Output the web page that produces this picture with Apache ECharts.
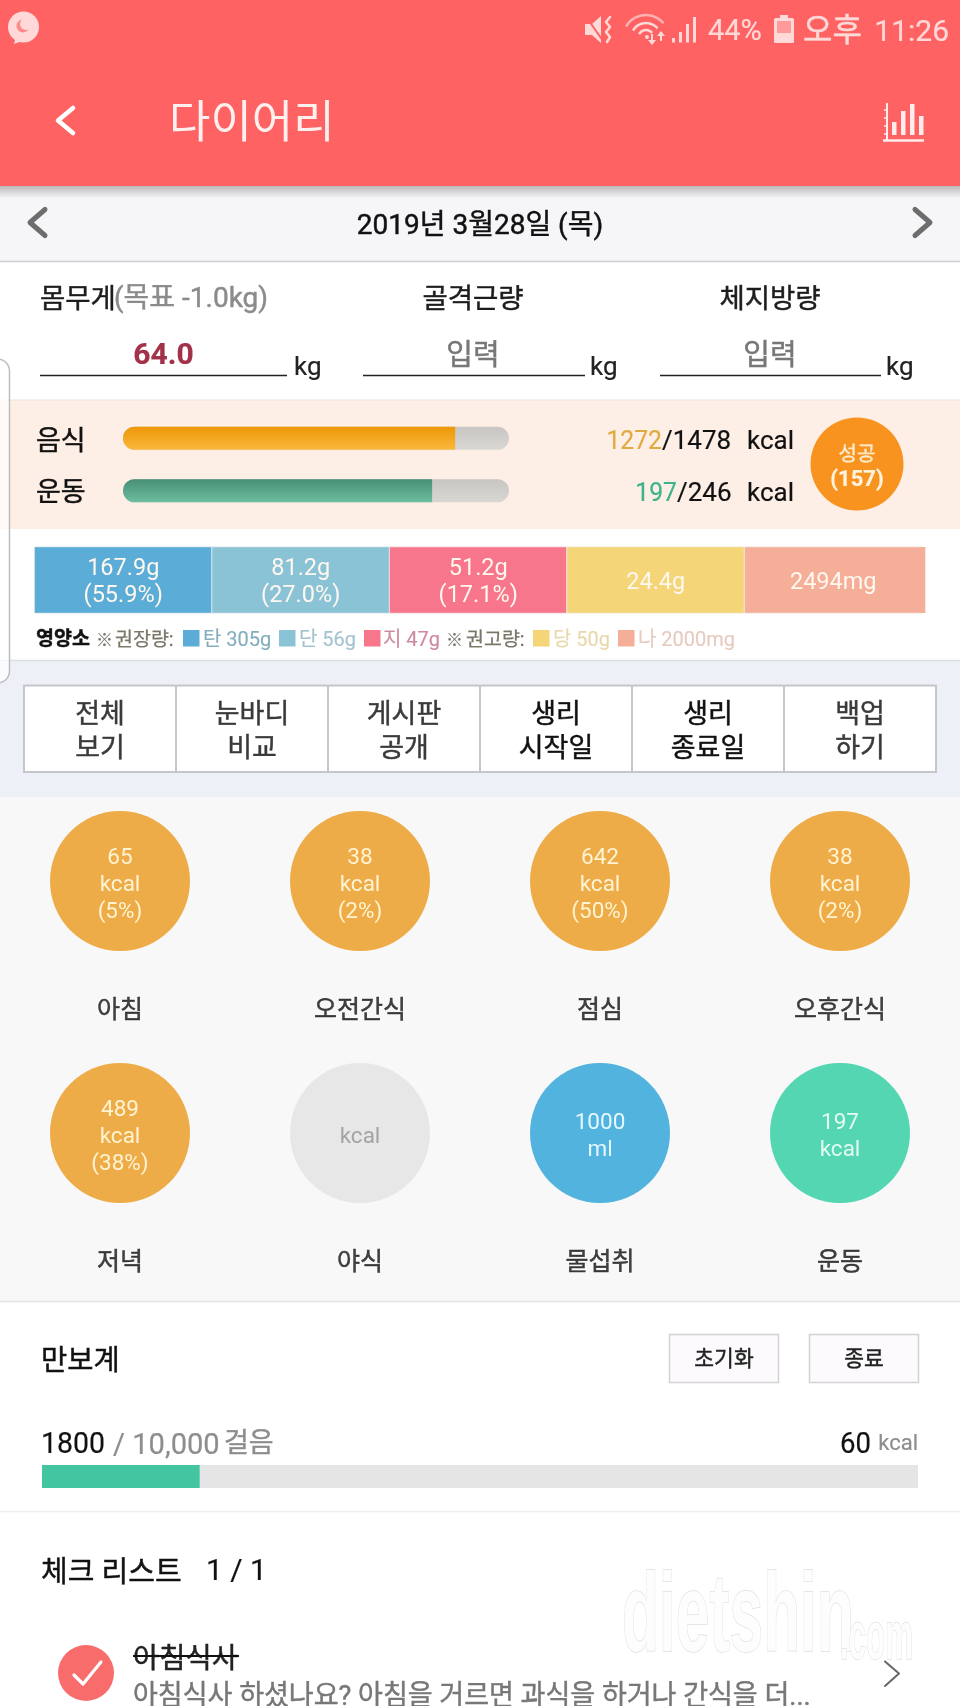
<!DOCTYPE html>
<html lang="ko">
<head>
<meta charset="utf-8">
<title>다이어리</title>
<style>html,body{margin:0;padding:0;background:#fff}#chart{width:960px;height:1706px}</style>
<script src="https://cdn.jsdelivr.net/npm/echarts@6/dist/echarts.min.js"></script>
</head>
<body>
<div id="chart"></div>
<script>
// ---- data ----
const intakeNames = ['음식', '운동'];
const intakeDone = [1272, 197];
const intakeGoal = [1478, 246];
const nutrientNames = ['탄수화물', '단백질', '지방', '당', '나트륨'];
const nutrientValues = [167.9, 81.2, 51.2, 24.4, 2494];
const nutrientUnits = ['g', 'g', 'g', 'g', 'mg'];
const nutrientShares = ['55.9%', '27.0%', '17.1%', null, null];
const mealNames = ['아침', '오전간식', '점심', '오후간식', '저녁', '야식', '물섭취', '운동'];
const mealValues = [65, 38, 642, 38, 489, null, 1000, 197];
const mealUnits = ['kcal', 'kcal', 'kcal', 'kcal', 'kcal', 'kcal', 'ml', 'kcal'];
const mealShares = ['5%', '2%', '50%', '2%', '38%', null, null, null];
const steps = [1800];
const stepGoal = 10000;
const buttonRows = [['전체', '보기'], ['눈바디', '비교'], ['게시판', '공개'], ['생리', '시작일'], ['생리', '종료일'], ['백업', '하기']];

// ---- styles ----
const KR = "'Noto Sans CJK KR', sans-serif";
const RB = "Roboto, 'Noto Sans CJK KR', sans-serif";
const nutrientColors = ['#5bacd6', '#8ac3d6', '#f7768c', '#f4d577', '#f5ae97'];
const mealColors = ['#eeac48', '#eeac48', '#eeac48', '#eeac48', '#eeac48', '#e7e7e7', '#52b3df', '#54d6b3'];
const mealText = ['#fff3d2', '#fff3d2', '#fff3d2', '#fff3d2', '#fff3d2', '#a3a3a3', '#e6f8ff', '#e4fbf2'];
const btnColors = ['#3a3a3a', '#3a3a3a', '#3a3a3a', '#111', '#111', '#3a3a3a'];

// ---- page furniture helpers ----
const g = [];
function R(x, y, w, h, fill, o) {
  o = o || {};
  g.push({ type: 'rect', silent: true, z: o.z || 0, shape: { x, y, width: w, height: h, r: o.r || 0 },
    style: { fill, stroke: o.stroke || null, lineWidth: o.lw || 0 } });
}
function L(x1, y1, x2, y2, stroke, lw, z) {
  g.push({ type: 'line', silent: true, z: z || 0, shape: { x1, y1, x2, y2 }, style: { stroke, lineWidth: lw || 1 } });
}
function P(points, stroke, lw) {
  g.push({ type: 'polyline', silent: true, shape: { points }, style: { stroke, lineWidth: lw || 2, fill: null, lineCap: 'round', lineJoin: 'round' } });
}
function PG(points, fill) {
  g.push({ type: 'polygon', silent: true, shape: { points }, style: { fill } });
}
function C(cx, cy, r, fill) {
  g.push({ type: 'circle', silent: true, shape: { cx, cy, r }, style: { fill } });
}
function A(cx, cy, r, a0, a1, stroke, lw) {
  g.push({ type: 'arc', silent: true, shape: { cx, cy, r, startAngle: a0 * Math.PI / 180, endAngle: a1 * Math.PI / 180 }, style: { stroke, lineWidth: lw, fill: null } });
}
function T(text, x, y, size, fill, o) {
  o = o || {};
  const f = o.font || RB;
  const thick = o.lw != null ? o.lw : (/[가-힣]/.test(text) ? 0.45 : 0.2);
  g.push({ type: 'text', silent: true, x, y, scaleX: o.sx || 1,
    style: { text, x: 0, y: 0, fill, fontSize: size, fontFamily: f, fontWeight: o.w || 'normal',
      textAlign: o.a || 'left', textVerticalAlign: 'middle', stroke: o.stroke || (thick ? fill : null), lineWidth: thick } });
}

// bands
R(0, 0, 960, 186, '#ff6262');
g.push({ type: 'rect', silent: true, shape: { x: 0, y: 186, width: 960, height: 12 },
  style: { fill: { type: 'linear', x: 0, y: 0, x2: 0, y2: 1, colorStops: [{ offset: 0, color: '#bdb8b9' }, { offset: 1, color: '#f5f4f7' }] } } });
R(0, 198, 960, 63, '#f6f5f8');
L(0, 261.5, 960, 261.5, '#cfcfcf', 1.5);
R(0, 400, 960, 129, '#fdeee6');
L(0, 400, 960, 400, '#e9e4e2', 1);
R(0, 660, 960, 137, '#eef0f7');
L(0, 660.5, 960, 660.5, '#dcdde0', 1.5);
R(0, 797, 960, 504, '#f8f8f8');
L(0, 1301.5, 960, 1301.5, '#e2e2e2', 1.5);
L(0, 1511.5, 960, 1511.5, '#eeeeee', 1.5);
R(-20, 359, 29.5, 324, 'rgba(255,255,255,0.72)', { r: 12, stroke: '#bdbdbd', lw: 1.5 });

// status bar
const SB = '#ffd8d8';
C(23.5, 27, 15.5, SB);
PG([[16, 36], [14, 44], [25, 40]], SB);
C(23, 26, 6.5, '#ff8a8a');
C(26, 24, 6, SB);
PG([[585, 24], [592, 24], [601, 16], [601, 43], [592, 35], [585, 35]], SB);
L(587, 18, 603, 41, '#ff6262', 2);
P([[610, 17], [606, 22], [610, 27], [606, 32], [610, 37], [607, 42]], SB, 2.5);
A(646, 38, 23, -150, -40, '#ffb0b0', 2.5);
A(646, 38, 15, -150, -40, SB, 2.5);
A(646, 38, 8, -150, -40, SB, 2.5);
C(647, 37, 2, SB);
L(652, 34, 652, 43, SB, 2); PG([[648, 40], [656, 40], [652, 45]], SB);
L(661, 33, 661, 41, SB, 2); PG([[657, 36], [665, 36], [661, 31]], SB);
R(672, 38, 3, 4.5, SB); R(679, 32, 3, 10.5, SB); R(686, 24, 3, 18.5, SB); R(693, 17, 3, 25.5, SB);
T('44%', 708, 33, 29, SB);
R(780, 15, 8, 3, SB);
R(774, 18, 20, 25, SB, { r: 1.5 });
R(777, 21, 14, 12, '#ff9a9a');
T('오후', 803, 33, 32, SB);
T('11:26', 949, 33, 30, SB, { a: 'right' });

// header
P([[73, 108], [58, 120.5], [73, 133]], '#fff', 4.5);
T('다이어리', 169, 127, 45, '#fff0f0', { lw: 0 });
const IC = '#ffecec';
L(887, 103, 887, 141, IC, 2); L(883, 140.5, 924, 140.5, IC, 2.5);
[110, 118, 126, 134].forEach(y => L(884, y, 887, y, IC, 1.5));
[[894, 122], [903, 111], [912, 104], [921, 116]].forEach(b => R(b[0] - 2, b[1], 4.5, 135 - b[1], IC));

// date row
P([[45, 209.5], [30, 222.5], [45, 235.5]], '#6d6d6d', 5);
P([[915, 209.5], [930, 222.5], [915, 235.5]], '#6d6d6d', 5);
T('2019년 3월28일 (목)', 480, 227, 28, '#111', { a: 'center' });

// body measures
T('몸무게', 40, 301, 27.5, '#1c1c1c');
T('(목표 -1.0kg)', 114, 300, 28, '#8b8b8b');
T('골격근량', 473, 301, 27.5, '#1c1c1c', { a: 'center' });
T('체지방량', 770, 301, 27.5, '#1c1c1c', { a: 'center' });
T('64.0', 163.5, 356, 30, '#a3314a', { a: 'center', w: 'bold' });
T('입력', 473, 358, 29, '#777', { a: 'center' });
T('입력', 770, 358, 29, '#777', { a: 'center' });
L(40, 375.5, 287, 375.5, '#222', 1.5); L(363, 375.5, 585, 375.5, '#222', 1.5); L(660, 375.5, 881, 375.5, '#222', 1.5);
T('kg', 294, 368, 26, '#222'); T('kg', 590, 368, 26, '#222'); T('kg', 886, 368, 26, '#222');

// intake texts
T(intakeNames[0], 36, 443, 27, '#111');
T(intakeNames[1], 36, 494, 27, '#111');
T(String(intakeDone[0]), 662, 442, 26, '#e0aa40', { a: 'right', sx: 0.95 });
T('/' + intakeGoal[0], 662, 442, 26, '#111');
T('kcal', 794, 442, 26, '#111', { a: 'right' });
T(String(intakeDone[1]), 677, 494, 26, '#3fb28a', { a: 'right', sx: 0.95 });
T('/' + intakeGoal[1], 677, 494, 26, '#111');
T('kcal', 794, 494, 26, '#111', { a: 'right' });
C(857, 464, 46.5, '#f7931e');
T('성공', 857, 456, 20, '#ffe9c9', { a: 'center' });
T('(157)', 857, 480, 22, '#fff3dd', { a: 'center', w: 'bold' });

// nutrient legend
T('영양소', 36, 640, 19.5, '#111', { w: 'bold' });
T('※', 96, 642, 17, '#77776c', { lw: 0.2 });
T('권장량:', 115, 641, 19.5, '#7b7568', { lw: 0.25 });
const legend = [
  [183, '#5bacd6', '탄 305g', 203, '#83aebe'],
  [279, '#8ac3d6', '단 56g', 299, '#a3c4cf'],
  [364, '#f7768c', '지 47g', 383, '#cf8a9d'],
  [533, '#f4d577', '당 50g', 553, '#e8d8ab'],
  [618, '#f5ae97', '나 2000mg', 638, '#e6cabf']
];
legend.forEach(i => { R(i[0], 630, 16.5, 16.5, i[1]); T(i[2], i[3], 641, 20, i[4], { lw: 0.15 }); });
T('※', 446, 642, 17, '#77776c', { lw: 0.2 });
T('권고량:', 466, 641, 19.5, '#7b7568', { lw: 0.25 });

// button row
R(24, 685.5, 912, 86.5, '#fff', { stroke: '#c3c6ca', lw: 2 });
for (let i = 1; i < 6; i++) L(24 + 152 * i, 685, 24 + 152 * i, 772, '#c3c6ca', 2);
buttonRows.forEach((r, i) => {
  T(r[0], 100 + 152 * i, 716, 27, btnColors[i], { a: 'center' });
  T(r[1], 100 + 152 * i, 750, 27, btnColors[i], { a: 'center' });
});

// pedometer
T('만보계', 41, 1363, 28.5, '#111');
[[669, '초기화'], [809, '종료']].forEach(b => {
  R(b[0] + .5, 1334.5, 109, 48, '#fcfafc', { stroke: '#d2d2d2', lw: 1.5 });
  T(b[1], b[0] + 55, 1361, 21.5, '#222', { a: 'center' });
});
T(String(steps[0]), 41, 1446, 29, '#111', { sx: 0.98 });
T('/ 10,000', 113, 1446, 30, '#8d8d8d', { sx: 0.97 });
T('걸음', 224, 1445, 27, '#8d8d8d');
T('60', 871, 1446, 29, '#111', { a: 'right', sx: 0.95 });
T('kcal', 918, 1444, 22, '#8d8d8d', { a: 'right' });

// check list
T('체크 리스트', 41, 1575, 29, '#111');
T('1 / 1', 206, 1572, 30, '#111');
// watermark
const NARROW = "'Liberation Sans Narrow', sans-serif";
T('dietshin', 622, 1620, 112, '#fdfdfd', { font: NARROW, w: 'bold', sx: 0.54, stroke: '#dfdfdf', lw: 1.5 });
T('.com', 840, 1640, 68, '#fdfdfd', { font: NARROW, w: 'bold', sx: 0.46, stroke: '#dfdfdf', lw: 1.5 });
C(86, 1673, 28, '#f86c6c');
P([[74, 1675], [83, 1684], [101, 1662]], '#fff', 3.2);
T('아침식사', 133, 1661, 28.5, '#222');
L(133, 1656, 239, 1656, '#111', 2, 1);
T('아침식사 하셨나요? 아침을 거르면 과식을 하거나 간식을 더...', 133, 1698, 28, '#777', { sx: 0.965 });
P([[885, 1661.5], [899, 1673.5], [885, 1686]], '#666', 2);
R(921, 547, 4.3, 66, nutrientColors[4], { z: 5 });

// ---- chart ----
const chart = echarts.init(document.getElementById('chart'), null, { renderer: 'canvas', width: 960, height: 1706 });
const vGrad = (a, b) => ({ type: 'linear', x: 0, y: 0, x2: 0, y2: 1, colorStops: [{ offset: 0, color: a }, { offset: 1, color: b }] });
const intakeFill = [vGrad('#ec9706', '#fab83d'), vGrad('#478f76', '#6dbd9f')];

chart.setOption({
  animation: false,
  backgroundColor: '#fff',
  graphic: { elements: g },
  grid: [
    { left: 123, width: 386, top: 412, height: 105, show: false },
    { left: 34.5, width: 887.5, top: 547, height: 66, show: false },
    { left: 0, width: 960, top: 755, height: 504, show: false },
    { left: 42, width: 876, top: 1465, height: 23, show: false }
  ],
  xAxis: [
    { gridIndex: 0, type: 'value', min: 0, max: 100, show: false },
    { gridIndex: 1, type: 'category', data: nutrientNames, show: false },
    { gridIndex: 2, type: 'category', data: ['1', '2', '3', '4'], show: false },
    { gridIndex: 3, type: 'value', min: 0, max: stepGoal, show: false }
  ],
  yAxis: [
    { gridIndex: 0, type: 'category', data: intakeNames, inverse: true, show: false },
    { gridIndex: 1, type: 'category', data: ['영양소'], show: false },
    { gridIndex: 2, type: 'category', data: ['1', '2'], inverse: true, show: false },
    { gridIndex: 3, type: 'category', data: ['만보계'], show: false }
  ],
  visualMap: {
    type: 'piecewise', show: false, seriesIndex: 1, dimension: 0,
    pieces: nutrientColors.map((color, i) => ({ value: i, color }))
  },
  series: [
    {
      name: '섭취', type: 'bar', xAxisIndex: 0, yAxisIndex: 0, barWidth: 23,
      showBackground: true,
      backgroundStyle: { color: vGrad('#c8c6c2', '#d9d7d3'), borderRadius: 11.5 },
      data: intakeDone.map((v, i) => ({
        value: v / intakeGoal[i] * 100,
        itemStyle: { color: intakeFill[i], borderRadius: [11.5, 0, 0, 11.5] }
      }))
    },
    {
      name: '영양소', type: 'heatmap', xAxisIndex: 1, yAxisIndex: 1,
      data: nutrientValues.map((v, i) => [i, 0, v]),
      itemStyle: { borderColor: '#f4f4f4', borderWidth: 0.8 },
      label: {
        show: true, fontFamily: RB, fontSize: 23.5, lineHeight: 27, color: '#fff8f0', offset: [0, 3],
        formatter: p => {
          const i = p.dataIndex;
          const head = nutrientValues[i] + nutrientUnits[i];
          return nutrientShares[i] ? head + '\n(' + nutrientShares[i] + ')' : head;
        }
      }
    },
    {
      name: '끼니', type: 'scatter', xAxisIndex: 2, yAxisIndex: 2, symbolSize: 140,
      data: mealValues.map((v, i) => ({
        value: [i % 4, Math.floor(i / 4), v],
        itemStyle: { color: mealColors[i], opacity: 1 },
        label: { color: mealText[i] }
      })),
      label: {
        show: true, position: 'inside', offset: [0, 4], fontFamily: RB, fontSize: 22.5, lineHeight: 27,
        formatter: p => {
          const i = p.dataIndex, parts = [];
          if (mealValues[i] != null) parts.push(mealValues[i]);
          parts.push(mealUnits[i]);
          if (mealShares[i]) parts.push('(' + mealShares[i] + ')');
          return parts.join('\n');
        }
      }
    },
    {
      name: '끼니 이름', type: 'scatter', xAxisIndex: 2, yAxisIndex: 2, symbolSize: 2,
      itemStyle: { color: 'transparent' },
      data: mealNames.map((n, i) => ({ value: [i % 4, Math.floor(i / 4)], name: n })),
      label: {
        show: true, position: 'inside', offset: [0, 127], fontFamily: KR, fontSize: 25, color: '#111',
        textBorderColor: '#111', textBorderWidth: 0.45,
        formatter: p => p.name
      }
    },
    {
      name: '걸음', type: 'bar', xAxisIndex: 3, yAxisIndex: 3, barWidth: 23,
      showBackground: true, backgroundStyle: { color: '#e5e5e5' },
      itemStyle: { color: '#42c5a0' },
      data: steps
    }
  ]
});
</script>
</body>
</html>
